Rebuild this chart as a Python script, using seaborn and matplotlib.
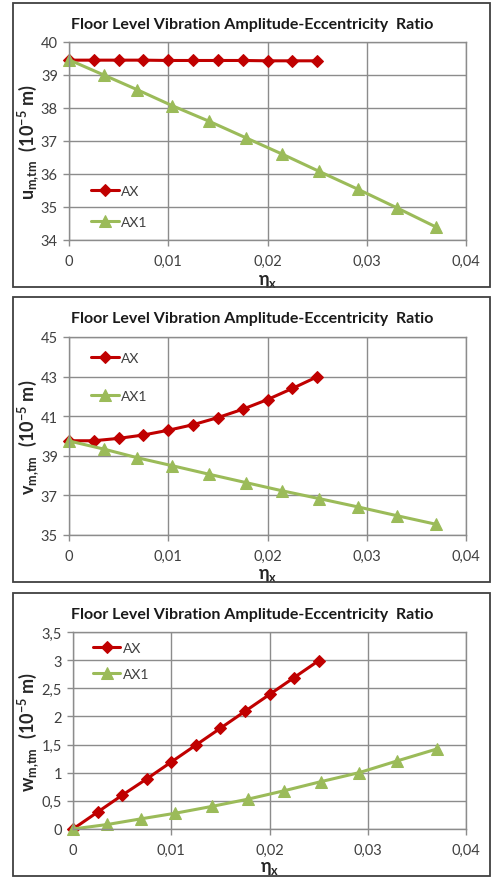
import matplotlib
matplotlib.use("Agg")
import matplotlib.pyplot as plt
import seaborn as sns
import pandas as pd
from matplotlib.patches import Rectangle
from matplotlib.ticker import FuncFormatter

sns.set_theme(style="white")
plt.rcParams['font.family'] = ['Lato', 'DejaVu Sans']
plt.rcParams['mathtext.fontset'] = 'custom'
plt.rcParams['mathtext.rm'] = 'Lato'
plt.rcParams['mathtext.bf'] = 'Lato:bold'
plt.rcParams['mathtext.it'] = 'Lato:italic'

# ---- data ----
ax_x = [0, 0.0025, 0.005, 0.0075, 0.01, 0.0125, 0.015, 0.0175, 0.02, 0.0225, 0.025]
ax1_x = [0, 0.0035, 0.0069, 0.0104, 0.0141, 0.0178, 0.0215, 0.0252, 0.0291, 0.033, 0.037]

u_ax = [39.45, 39.45, 39.45, 39.45, 39.44, 39.44, 39.44, 39.44, 39.43, 39.43, 39.43]
u_ax1 = [39.46, 39.0, 38.55, 38.07, 37.6, 37.1, 36.6, 36.08, 35.54, 34.98, 34.39]

v_ax = [39.76, 39.76, 39.88, 40.05, 40.29, 40.57, 40.93, 41.35, 41.84, 42.4, 42.99]
v_ax1 = [39.75, 39.34, 38.9, 38.5, 38.07, 37.65, 37.23, 36.84, 36.42, 35.98, 35.54]

w_ax = [0, 0.3, 0.6, 0.89, 1.19, 1.49, 1.79, 2.09, 2.39, 2.69, 2.99]
w_ax1 = [0, 0.08, 0.18, 0.28, 0.4, 0.53, 0.68, 0.84, 1.0, 1.21, 1.42]

x_ticks = [0, 0.01, 0.02, 0.03, 0.04]
u_ticks = [34, 35, 36, 37, 38, 39, 40]
v_ticks = [35, 37, 39, 41, 43, 45]
w_ticks = [0, 0.5, 1, 1.5, 2, 2.5, 3, 3.5]

title = "Floor Level Vibration Amplitude-Eccentricity  Ratio"
series_names = ["AX", "AX1"]
red = "#C00000"
green = "#9BBB59"

W, H = 495, 879
fig = plt.figure(figsize=(W / 100, H / 100), dpi=100)
fig.patch.set_facecolor("white")

def fx(px):
    return px / W

def fy(py):
    return 1 - py / H

panels = [
    dict(box=(13, 4, 490, 288), area=(69, 43, 466, 241), y1=u_ax, y2=u_ax1,
         yt=u_ticks, ylab=r"$\mathbf{u_{m{,}tm}}$  $\mathbf{(10^{-5}\ m)}$",
         leg=(0.055, 0.169), lsp=1.4, xl=281, yl=28),
    dict(box=(13, 298, 490, 583), area=(69, 338, 466, 536), y1=v_ax, y2=v_ax1,
         yt=v_ticks, ylab=r"$\mathbf{v_{m{,}tm}}$  $\mathbf{(10^{-5}\ m)}$",
         leg=(0.055, 0.798), lsp=1.9, xl=576, yl=28),
    dict(box=(13, 594, 490, 877), area=(73, 633, 466, 830), y1=w_ax, y2=w_ax1,
         yt=w_ticks, ylab=r"$\mathbf{w_{m{,}tm}}$  $\mathbf{(10^{-5}\ m)}$",
         leg=(0.05, 0.853), lsp=1.04, xl=869, yl=28),
]

fmt = FuncFormatter(lambda v, p: f"{v:g}".replace('.', ','))

for p in panels:
    bx0, by0, bx1, by1 = p["box"]
    fig.patches.append(Rectangle((fx(bx0), fy(by1)), fx(bx1 - bx0), (by1 - by0) / H,
                                 transform=fig.transFigure, fill=False,
                                 edgecolor="#404040", linewidth=1.3))
    x0, y0, x1, y1 = p["area"]
    ax = fig.add_axes([fx(x0), fy(y1), fx(x1 - x0), (y1 - y0) / H])
    df1 = pd.DataFrame({"x": ax_x, "y": p["y1"]})
    df2 = pd.DataFrame({"x": ax1_x, "y": p["y2"]})
    sns.lineplot(data=df1, x="x", y="y", ax=ax, color=red, marker="D", markersize=6,
                 markeredgecolor=red, linewidth=2.2, label=series_names[0], clip_on=False)
    sns.lineplot(data=df2, x="x", y="y", ax=ax, color=green, marker="^", markersize=8,
                 markeredgecolor=green, linewidth=2.2, label=series_names[1], clip_on=False)
    ax.set_xlim(x_ticks[0], x_ticks[-1])
    ax.set_ylim(p["yt"][0], p["yt"][-1])
    ax.set_xticks(x_ticks)
    ax.set_yticks(p["yt"])
    ax.xaxis.set_major_formatter(fmt)
    ax.yaxis.set_major_formatter(fmt)
    ax.grid(True, color="#8C8C8C", linewidth=1.0)
    ax.set_axisbelow(True)
    for s in ax.spines.values():
        s.set_color("#8C8C8C")
        s.set_linewidth(1.0)
    ax.tick_params(axis="both", colors="#8C8C8C", labelcolor="#404040", labelsize=10.5,
                   length=4, width=1, direction="out", left=True, bottom=True)
    ax.tick_params(axis="x", pad=6)
    ax.tick_params(axis="y", pad=4)
    ax.set_xlabel(r"$\mathbf{\eta_x}$", fontsize=13, color="#262626")
    ax.set_ylabel(p["ylab"], fontsize=13, color="#262626")
    ax.xaxis.label.set_va("center")
    ax.yaxis.label.set_va("center")
    ax.xaxis.set_label_coords(0.5, (y1 - p["xl"]) / (y1 - y0))
    ax.yaxis.set_label_coords((p["yl"] - x0) / (x1 - x0), 0.5)
    fig.text(fx(252), fy(by0 + 21), title, ha="center", va="center",
             fontsize=11.5, fontweight="bold", color="#1a1a1a")
    leg = ax.legend(loc="center left", bbox_to_anchor=p["leg"], frameon=False,
                    handlelength=2.0, labelspacing=p["lsp"], fontsize=10,
                    handletextpad=0.15, borderaxespad=0, borderpad=0)
    for t in leg.get_texts():
        t.set_color("#404040")

fig.savefig("out.png", dpi=100, facecolor="white")
